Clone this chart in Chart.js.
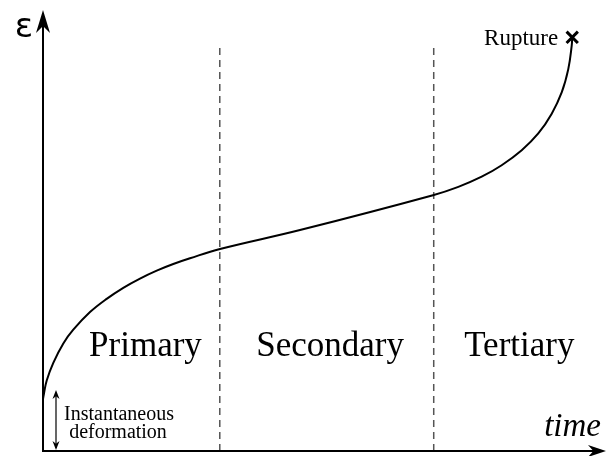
<!DOCTYPE html>
<html>
<head>
<meta charset="utf-8">
<script src="https://cdn.jsdelivr.net/npm/chart.js@4/dist/chart.umd.min.js"></script>
<style>
  html, body { margin: 0; padding: 0; background: #fff; }
  #wrap { width: 606px; height: 456px; }
</style>
</head>
<body>
<div id="wrap"><canvas id="chart-1"></canvas></div>
<script>
// creep curve: time vs strain (arbitrary units)
const timeVals = [0, 0.18, 0.66, 1.83, 3.61, 5.38, 8.35, 11.31, 14.26, 17.23, 20.2, 23.14, 26.11, 31.44, 45.65, 69.27, 73.77, 77.92, 81.47, 85.03, 87.97, 90.36, 92.13, 93.3, 93.91, 94.0];
const strainVals = [11.8, 13.1, 16.0, 20.0, 24.4, 27.5, 31.5, 34.5, 37.0, 39.1, 40.9, 42.4, 43.7, 45.8, 50.1, 58.0, 59.9, 62.2, 64.8, 68.2, 72.0, 76.5, 81.3, 86.6, 91.9, 93.8];
const phases = ["Primary", "Secondary", "Tertiary"];
const phaseLabelX = [18.2, 51.0, 84.6];
const boundaries = [31.4, 69.4];
const boundaryTop = 91.4;
const ruptureLabel = "Rupture";
const instantLabel = ["Instantaneous", "deformation"];
const xTitle = "time";
const yTitle = "\u03b5";

const curve = timeVals.map((t, i) => ({ x: t, y: strainVals[i] }));
const last = curve[curve.length - 1];

const datasets = [
  {
    data: curve,
    borderColor: "#000",
    borderWidth: 2,
    pointRadius: 0,
    tension: 0.4,
    showLine: true,
  },
];
boundaries.forEach((b) => {
  datasets.push({
    data: [{ x: b, y: 0 }, { x: b, y: boundaryTop }],
    borderColor: "#555",
    borderWidth: 1.5,
    borderDash: [7, 5],
    pointRadius: 0,
    showLine: true,
  });
});
datasets.push({
  data: [last],
  pointStyle: "crossRot",
  pointRadius: 8,
  borderColor: "#000",
  borderWidth: 3,
  showLine: false,
});

function arrowHead(ctx, x, y, dir, len, half) {
  ctx.save();
  ctx.translate(x, y);
  ctx.rotate(dir);
  ctx.beginPath();
  ctx.moveTo(0, 0);
  ctx.lineTo(-len, -half);
  ctx.lineTo(-len * 0.7, 0);
  ctx.lineTo(-len, half);
  ctx.closePath();
  ctx.fill();
  ctx.restore();
}

const decor = {
  id: "decor",
  afterDatasetsDraw(chart) {
    const ctx = chart.ctx;
    const xs = chart.scales.x;
    const ys = chart.scales.y;
    const x0 = xs.getPixelForValue(0);
    const y0 = ys.getPixelForValue(0);
    ctx.save();
    ctx.strokeStyle = "#000";
    ctx.fillStyle = "#000";
    ctx.lineWidth = 2;
    // y axis
    ctx.beginPath();
    ctx.moveTo(x0, y0 + 1);
    ctx.lineTo(x0, chart.chartArea.top + 12);
    ctx.stroke();
    arrowHead(ctx, x0, chart.chartArea.top, -Math.PI / 2, 23, 7);
    // x axis
    ctx.beginPath();
    ctx.moveTo(x0 - 1, y0);
    ctx.lineTo(chart.chartArea.right - 10, y0);
    ctx.stroke();
    arrowHead(ctx, chart.chartArea.right, y0, 0, 18, 6);

    // instantaneous deformation arrow
    const ax = x0 + 13;
    const aTop = ys.getPixelForValue(strainVals[0]) - 9;
    ctx.lineWidth = 1.2;
    ctx.beginPath();
    ctx.moveTo(ax, y0 - 3);
    ctx.lineTo(ax, aTop + 3);
    ctx.stroke();
    arrowHead(ctx, ax, aTop, -Math.PI / 2, 9, 3.5);
    arrowHead(ctx, ax, y0 - 1, Math.PI / 2, 9, 3.5);

    ctx.textBaseline = "middle";
    ctx.font = "20px 'Liberation Serif'";
    ctx.textAlign = "center";
    ctx.fillText(instantLabel[0], x0 + 76, y0 - 36);
    ctx.fillText(instantLabel[1], x0 + 75, y0 - 18);

    // phase labels
    ctx.font = "35px 'Liberation Serif'";
    phases.forEach((p, i) => {
      ctx.fillText(p, xs.getPixelForValue(phaseLabelX[i]), ys.getPixelForValue(23.6));
    });

    // rupture
    ctx.textAlign = "right";
    ctx.font = "23px 'Liberation Serif'";
    ctx.fillText(ruptureLabel, xs.getPixelForValue(last.x) - 14, ys.getPixelForValue(last.y) + 2);

    // axis titles
    ctx.font = "italic 33px 'Liberation Serif'";
    ctx.fillText(xTitle, chart.chartArea.right - 5, y0 - 24);
    ctx.textAlign = "center";
    ctx.font = "34px 'DejaVu Sans'";
    ctx.fillText(yTitle, x0 - 19, chart.chartArea.top + 18);
    ctx.restore();
  },
};

new Chart(document.getElementById("chart-1"), {
  type: "scatter",
  data: { datasets: datasets },
  options: {
    responsive: true,
    maintainAspectRatio: false,
    animation: { duration: 0 },
    layout: { autoPadding: false, padding: { left: 43, right: 0, top: 10, bottom: 5 } },
    scales: {
      x: { type: "linear", min: 0, max: 100, display: false },
      y: { type: "linear", min: 0, max: 100, display: false },
    },
    plugins: {
      legend: { display: false },
      tooltip: { enabled: false },
    },
  },
  plugins: [decor],
});
</script>
</body>
</html>
